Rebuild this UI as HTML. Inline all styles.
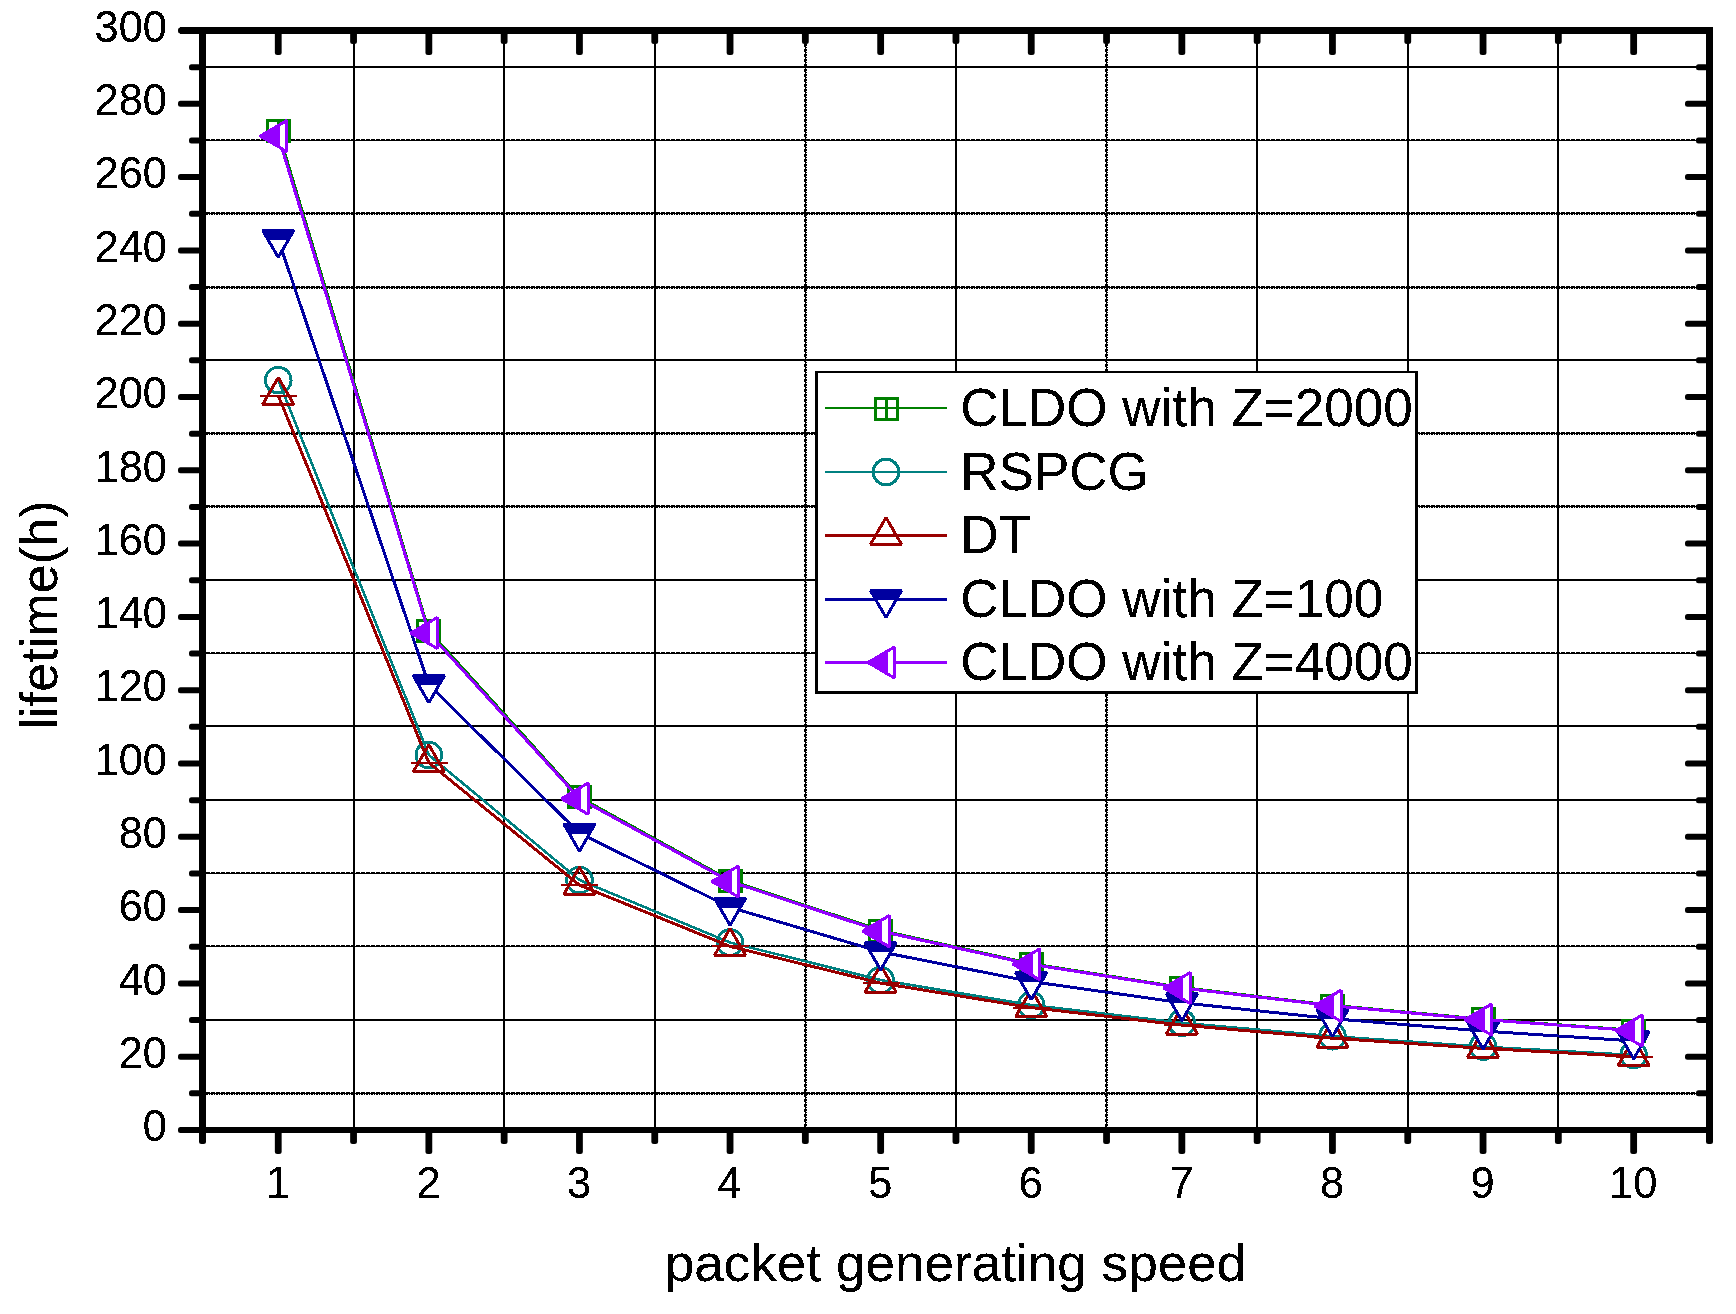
<!DOCTYPE html>
<html lang="en"><head><meta charset="utf-8"><title>lifetime vs packet generating speed</title>
<style>html,body{margin:0;padding:0;background:#fff}svg{display:block}text{font-family:"Liberation Sans",Arial,sans-serif;fill:#000}.tk{font-size:43.4px}.tt{font-size:53.1px}.ty{font-size:52.2px}.tl{font-size:53.05px}</style>
</head><body>
<svg width="1736" height="1314" viewBox="0 0 1736 1314">
<defs><filter id="bin" x="-2%" y="-2%" width="104%" height="104%" color-interpolation-filters="sRGB"><feComponentTransfer><feFuncA type="discrete" tableValues="0 0 1 1 1"/></feComponentTransfer></filter></defs>
<rect width="1736" height="1314" fill="#fff"/>
<g id="grid" fill="#000" stroke="#000" stroke-width="1" shape-rendering="crispEdges">
<line x1="206" y1="1092.5" x2="1706" y2="1092.5" stroke-dasharray="4 1"/>
<rect x="206" y="1093" width="1500" height="1" stroke="none"/>
<line x1="206" y1="1094.5" x2="1706" y2="1094.5" stroke-dasharray="2 1 1 1"/>
<rect x="206" y="1019" width="1500" height="2" stroke="none"/>
<line x1="206" y1="945.5" x2="1706" y2="945.5" stroke-dasharray="4 1"/>
<rect x="206" y="946" width="1500" height="1" stroke="none"/>
<line x1="206" y1="872.5" x2="1706" y2="872.5" stroke-dasharray="4 1"/>
<rect x="206" y="873" width="1500" height="1" stroke="none"/>
<rect x="206" y="799" width="1500" height="2" stroke="none"/>
<rect x="206" y="725" width="1500" height="2" stroke="none"/>
<line x1="206" y1="652.5" x2="1706" y2="652.5" stroke-dasharray="4 1"/>
<rect x="206" y="653" width="1500" height="1" stroke="none"/>
<rect x="206" y="579" width="1500" height="2" stroke="none"/>
<line x1="206" y1="505.5" x2="1706" y2="505.5" stroke-dasharray="4 1"/>
<rect x="206" y="506" width="1500" height="1" stroke="none"/>
<line x1="206" y1="507.5" x2="1706" y2="507.5" stroke-dasharray="2 1 1 1"/>
<line x1="206" y1="432.5" x2="1706" y2="432.5" stroke-dasharray="4 1"/>
<rect x="206" y="433" width="1500" height="1" stroke="none"/>
<line x1="206" y1="434.5" x2="1706" y2="434.5" stroke-dasharray="2 1 1 1"/>
<rect x="206" y="359" width="1500" height="2" stroke="none"/>
<line x1="206" y1="286.5" x2="1706" y2="286.5" stroke-dasharray="4 1"/>
<rect x="206" y="287" width="1500" height="1" stroke="none"/>
<line x1="206" y1="288.5" x2="1706" y2="288.5" stroke-dasharray="2 1 1 1"/>
<line x1="206" y1="212.5" x2="1706" y2="212.5" stroke-dasharray="4 1"/>
<rect x="206" y="213" width="1500" height="1" stroke="none"/>
<line x1="206" y1="214.5" x2="1706" y2="214.5" stroke-dasharray="2 1 1 1"/>
<line x1="206" y1="139.5" x2="1706" y2="139.5" stroke-dasharray="4 1"/>
<rect x="206" y="140" width="1500" height="1" stroke="none"/>
<rect x="206" y="66" width="1500" height="2" stroke="none"/>
<rect x="353" y="34" width="2" height="1093" stroke="none"/>
<rect x="503" y="34" width="2" height="1093" stroke="none"/>
<rect x="654" y="34" width="2" height="1093" stroke="none"/>
<line x1="804.5" y1="34" x2="804.5" y2="1127" stroke-dasharray="3 2"/>
<rect x="805" y="34" width="1" height="1093" stroke="none"/>
<line x1="806.5" y1="34" x2="806.5" y2="1127" stroke-dasharray="2 1 1 1"/>
<rect x="955" y="34" width="2" height="1093" stroke="none"/>
<line x1="1105.5" y1="34" x2="1105.5" y2="1127" stroke-dasharray="3 2"/>
<rect x="1106" y="34" width="1" height="1093" stroke="none"/>
<line x1="1107.5" y1="34" x2="1107.5" y2="1127" stroke-dasharray="2 1 1 1"/>
<rect x="1256" y="34" width="2" height="1093" stroke="none"/>
<rect x="1407" y="34" width="2" height="1093" stroke="none"/>
<rect x="1557" y="34" width="2" height="1093" stroke="none"/>
</g>
<g id="series" shape-rendering="crispEdges">
<polyline fill="none" stroke="#008000" stroke-width="2.6" stroke-linejoin="round" points="278.25,130.92 428.85,630.46 579.45,796.97 730.05,880.23 880.65,930.18 1031.25,963.49 1181.85,987.27 1332.45,1005.12 1483.05,1018.99 1633.65,1030.09"/>
<rect x="267.25" y="120.92" width="22" height="21" fill="none" stroke="#008000" stroke-width="3"/><line x1="278.25" y1="120.92" x2="278.25" y2="141.92" stroke="#008000" stroke-width="3"/>
<rect x="417.85" y="620.46" width="22" height="21" fill="none" stroke="#008000" stroke-width="3"/><line x1="428.85" y1="620.46" x2="428.85" y2="641.46" stroke="#008000" stroke-width="3"/>
<rect x="568.45" y="786.97" width="22" height="21" fill="none" stroke="#008000" stroke-width="3"/><line x1="579.45" y1="786.97" x2="579.45" y2="807.97" stroke="#008000" stroke-width="3"/>
<rect x="719.05" y="870.23" width="22" height="21" fill="none" stroke="#008000" stroke-width="3"/><line x1="730.05" y1="870.23" x2="730.05" y2="891.23" stroke="#008000" stroke-width="3"/>
<rect x="869.65" y="920.18" width="22" height="21" fill="none" stroke="#008000" stroke-width="3"/><line x1="880.65" y1="920.18" x2="880.65" y2="941.18" stroke="#008000" stroke-width="3"/>
<rect x="1020.25" y="953.49" width="22" height="21" fill="none" stroke="#008000" stroke-width="3"/><line x1="1031.25" y1="953.49" x2="1031.25" y2="974.49" stroke="#008000" stroke-width="3"/>
<rect x="1170.85" y="977.27" width="22" height="21" fill="none" stroke="#008000" stroke-width="3"/><line x1="1181.85" y1="977.27" x2="1181.85" y2="998.27" stroke="#008000" stroke-width="3"/>
<rect x="1321.45" y="995.12" width="22" height="21" fill="none" stroke="#008000" stroke-width="3"/><line x1="1332.45" y1="995.12" x2="1332.45" y2="1016.12" stroke="#008000" stroke-width="3"/>
<rect x="1472.05" y="1008.99" width="22" height="21" fill="none" stroke="#008000" stroke-width="3"/><line x1="1483.05" y1="1008.99" x2="1483.05" y2="1029.99" stroke="#008000" stroke-width="3"/>
<rect x="1622.65" y="1020.09" width="22" height="21" fill="none" stroke="#008000" stroke-width="3"/><line x1="1633.65" y1="1020.09" x2="1633.65" y2="1041.09" stroke="#008000" stroke-width="3"/>
<polyline fill="none" stroke="#008080" stroke-width="2.6" stroke-linejoin="round" points="278.25,380.14 428.85,755.07 579.45,880.05 730.05,942.54 880.65,980.03 1031.25,1005.02 1181.85,1022.88 1332.45,1036.27 1483.05,1046.68 1633.65,1055.01"/>
<circle cx="278.25" cy="380.14" r="12.8" fill="none" stroke="#008080" stroke-width="3"/>
<circle cx="428.85" cy="755.07" r="12.8" fill="none" stroke="#008080" stroke-width="3"/>
<circle cx="579.45" cy="880.05" r="12.8" fill="none" stroke="#008080" stroke-width="3"/>
<circle cx="730.05" cy="942.54" r="12.8" fill="none" stroke="#008080" stroke-width="3"/>
<circle cx="880.65" cy="980.03" r="12.8" fill="none" stroke="#008080" stroke-width="3"/>
<circle cx="1031.25" cy="1005.02" r="12.8" fill="none" stroke="#008080" stroke-width="3"/>
<circle cx="1181.85" cy="1022.88" r="12.8" fill="none" stroke="#008080" stroke-width="3"/>
<circle cx="1332.45" cy="1036.27" r="12.8" fill="none" stroke="#008080" stroke-width="3"/>
<circle cx="1483.05" cy="1046.68" r="12.8" fill="none" stroke="#008080" stroke-width="3"/>
<circle cx="1633.65" cy="1055.01" r="12.8" fill="none" stroke="#008080" stroke-width="3"/>
<polyline fill="none" stroke="#990000" stroke-width="3" stroke-linejoin="round" points="278.25,395.53 428.85,762.77 579.45,885.18 730.05,946.38 880.65,983.11 1031.25,1007.59 1181.85,1025.08 1332.45,1038.19 1483.05,1048.39 1633.65,1056.55"/>
<polygon points="278.25,377.53 262.66,404.53 293.84,404.53" fill="none" stroke="#990000" stroke-width="3" stroke-linejoin="bevel"/><line x1="260.25" y1="395.53" x2="297.25" y2="395.53" stroke="#990000" stroke-width="2"/>
<polygon points="428.85,744.77 413.26,771.77 444.44,771.77" fill="none" stroke="#990000" stroke-width="3" stroke-linejoin="bevel"/><line x1="410.85" y1="762.77" x2="447.85" y2="762.77" stroke="#990000" stroke-width="2"/>
<polygon points="579.45,867.18 563.86,894.18 595.04,894.18" fill="none" stroke="#990000" stroke-width="3" stroke-linejoin="bevel"/><line x1="561.45" y1="885.18" x2="598.45" y2="885.18" stroke="#990000" stroke-width="2"/>
<polygon points="730.05,928.38 714.46,955.38 745.64,955.38" fill="none" stroke="#990000" stroke-width="3" stroke-linejoin="bevel"/><line x1="712.05" y1="946.38" x2="749.05" y2="946.38" stroke="#990000" stroke-width="2"/>
<polygon points="880.65,965.11 865.06,992.11 896.24,992.11" fill="none" stroke="#990000" stroke-width="3" stroke-linejoin="bevel"/><line x1="862.65" y1="983.11" x2="899.65" y2="983.11" stroke="#990000" stroke-width="2"/>
<polygon points="1031.25,989.59 1015.66,1016.59 1046.84,1016.59" fill="none" stroke="#990000" stroke-width="3" stroke-linejoin="bevel"/><line x1="1013.25" y1="1007.59" x2="1050.25" y2="1007.59" stroke="#990000" stroke-width="2"/>
<polygon points="1181.85,1007.08 1166.26,1034.08 1197.44,1034.08" fill="none" stroke="#990000" stroke-width="3" stroke-linejoin="bevel"/><line x1="1163.85" y1="1025.08" x2="1200.85" y2="1025.08" stroke="#990000" stroke-width="2"/>
<polygon points="1332.45,1020.19 1316.86,1047.19 1348.04,1047.19" fill="none" stroke="#990000" stroke-width="3" stroke-linejoin="bevel"/><line x1="1314.45" y1="1038.19" x2="1351.45" y2="1038.19" stroke="#990000" stroke-width="2"/>
<polygon points="1483.05,1030.39 1467.46,1057.39 1498.64,1057.39" fill="none" stroke="#990000" stroke-width="3" stroke-linejoin="bevel"/><line x1="1465.05" y1="1048.39" x2="1502.05" y2="1048.39" stroke="#990000" stroke-width="2"/>
<polygon points="1633.65,1038.55 1618.06,1065.55 1649.24,1065.55" fill="none" stroke="#990000" stroke-width="3" stroke-linejoin="bevel"/><line x1="1615.65" y1="1056.55" x2="1652.65" y2="1056.55" stroke="#990000" stroke-width="2"/>
<polyline fill="none" stroke="#0000a0" stroke-width="3" stroke-linejoin="round" points="278.25,239.4 428.85,684.7 579.45,833.13 730.05,907.35 880.65,951.88 1031.25,981.57 1181.85,1002.77 1332.45,1018.68 1483.05,1031.05 1633.65,1040.94"/>
<polygon points="278.25,257.4 262.66,230.4 293.84,230.4" fill="#fff" stroke="#0000a0" stroke-width="3" stroke-linejoin="bevel"/><polygon points="262.66,230.4 293.84,230.4 288.64,239.9 267.86,239.9" fill="#0000a0"/>
<polygon points="428.85,702.7 413.26,675.7 444.44,675.7" fill="#fff" stroke="#0000a0" stroke-width="3" stroke-linejoin="bevel"/><polygon points="413.26,675.7 444.44,675.7 439.24,685.2 418.46,685.2" fill="#0000a0"/>
<polygon points="579.45,851.13 563.86,824.13 595.04,824.13" fill="#fff" stroke="#0000a0" stroke-width="3" stroke-linejoin="bevel"/><polygon points="563.86,824.13 595.04,824.13 589.84,833.63 569.06,833.63" fill="#0000a0"/>
<polygon points="730.05,925.35 714.46,898.35 745.64,898.35" fill="#fff" stroke="#0000a0" stroke-width="3" stroke-linejoin="bevel"/><polygon points="714.46,898.35 745.64,898.35 740.44,907.85 719.66,907.85" fill="#0000a0"/>
<polygon points="880.65,969.88 865.06,942.88 896.24,942.88" fill="#fff" stroke="#0000a0" stroke-width="3" stroke-linejoin="bevel"/><polygon points="865.06,942.88 896.24,942.88 891.04,952.38 870.26,952.38" fill="#0000a0"/>
<polygon points="1031.25,999.57 1015.66,972.57 1046.84,972.57" fill="#fff" stroke="#0000a0" stroke-width="3" stroke-linejoin="bevel"/><polygon points="1015.66,972.57 1046.84,972.57 1041.64,982.07 1020.86,982.07" fill="#0000a0"/>
<polygon points="1181.85,1020.77 1166.26,993.77 1197.44,993.77" fill="#fff" stroke="#0000a0" stroke-width="3" stroke-linejoin="bevel"/><polygon points="1166.26,993.77 1197.44,993.77 1192.24,1003.27 1171.46,1003.27" fill="#0000a0"/>
<polygon points="1332.45,1036.68 1316.86,1009.68 1348.04,1009.68" fill="#fff" stroke="#0000a0" stroke-width="3" stroke-linejoin="bevel"/><polygon points="1316.86,1009.68 1348.04,1009.68 1342.84,1019.18 1322.06,1019.18" fill="#0000a0"/>
<polygon points="1483.05,1049.05 1467.46,1022.05 1498.64,1022.05" fill="#fff" stroke="#0000a0" stroke-width="3" stroke-linejoin="bevel"/><polygon points="1467.46,1022.05 1498.64,1022.05 1493.44,1031.55 1472.66,1031.55" fill="#0000a0"/>
<polygon points="1633.65,1058.94 1618.06,1031.94 1649.24,1031.94" fill="#fff" stroke="#0000a0" stroke-width="3" stroke-linejoin="bevel"/><polygon points="1618.06,1031.94 1649.24,1031.94 1644.04,1041.44 1623.26,1041.44" fill="#0000a0"/>
<polyline fill="none" stroke="#9400ff" stroke-width="3" stroke-linejoin="round" points="278.25,136.05 428.85,633.03 579.45,798.68 730.05,881.51 880.65,931.21 1031.25,964.34 1181.85,988.01 1332.45,1005.76 1483.05,1019.56 1633.65,1030.61"/>
<polygon points="260.25,136.05 286.85,120.45 286.85,151.65" fill="#fff" stroke="#9400ff" stroke-width="3" stroke-linejoin="bevel"/><polygon points="260.25,136.05 279.75,124.62 279.75,147.49" fill="#9400ff"/>
<polygon points="410.85,633.03 437.45,617.43 437.45,648.63" fill="#fff" stroke="#9400ff" stroke-width="3" stroke-linejoin="bevel"/><polygon points="410.85,633.03 430.35,621.59 430.35,644.46" fill="#9400ff"/>
<polygon points="561.45,798.68 588.05,783.08 588.05,814.28" fill="#fff" stroke="#9400ff" stroke-width="3" stroke-linejoin="bevel"/><polygon points="561.45,798.68 580.95,787.25 580.95,810.12" fill="#9400ff"/>
<polygon points="712.05,881.51 738.65,865.91 738.65,897.11" fill="#fff" stroke="#9400ff" stroke-width="3" stroke-linejoin="bevel"/><polygon points="712.05,881.51 731.55,870.08 731.55,892.95" fill="#9400ff"/>
<polygon points="862.65,931.21 889.25,915.61 889.25,946.81" fill="#fff" stroke="#9400ff" stroke-width="3" stroke-linejoin="bevel"/><polygon points="862.65,931.21 882.15,919.77 882.15,942.65" fill="#9400ff"/>
<polygon points="1013.25,964.34 1039.85,948.74 1039.85,979.94" fill="#fff" stroke="#9400ff" stroke-width="3" stroke-linejoin="bevel"/><polygon points="1013.25,964.34 1032.75,952.91 1032.75,975.78" fill="#9400ff"/>
<polygon points="1163.85,988.01 1190.45,972.41 1190.45,1003.61" fill="#fff" stroke="#9400ff" stroke-width="3" stroke-linejoin="bevel"/><polygon points="1163.85,988.01 1183.35,976.57 1183.35,999.44" fill="#9400ff"/>
<polygon points="1314.45,1005.76 1341.05,990.16 1341.05,1021.36" fill="#fff" stroke="#9400ff" stroke-width="3" stroke-linejoin="bevel"/><polygon points="1314.45,1005.76 1333.95,994.32 1333.95,1017.19" fill="#9400ff"/>
<polygon points="1465.05,1019.56 1491.65,1003.96 1491.65,1035.16" fill="#fff" stroke="#9400ff" stroke-width="3" stroke-linejoin="bevel"/><polygon points="1465.05,1019.56 1484.55,1008.13 1484.55,1031" fill="#9400ff"/>
<polygon points="1615.65,1030.61 1642.25,1015.01 1642.25,1046.21" fill="#fff" stroke="#9400ff" stroke-width="3" stroke-linejoin="bevel"/><polygon points="1615.65,1030.61 1635.15,1019.17 1635.15,1042.04" fill="#9400ff"/>
</g>
<g id="frame" fill="#000" shape-rendering="crispEdges">
<rect x="180" y="27" width="1533" height="7"/>
<rect x="180" y="1127" width="1533" height="6"/>
<rect x="199" y="27" width="7" height="1115"/>
<rect x="1706" y="27" width="7" height="1115"/>
</g>
<g id="ticks" fill="#000">
<rect x="178" y="1127" width="23" height="6" rx="2.5"/>
<rect x="1685" y="1127" width="23" height="6" rx="2.5"/>
<rect x="189" y="1090.35" width="12" height="6" rx="2.5"/>
<rect x="1696" y="1090.35" width="12" height="6" rx="2.5"/>
<rect x="178" y="1053.7" width="23" height="6" rx="2.5"/>
<rect x="1685" y="1053.7" width="23" height="6" rx="2.5"/>
<rect x="189" y="1017.05" width="12" height="6" rx="2.5"/>
<rect x="1696" y="1017.05" width="12" height="6" rx="2.5"/>
<rect x="178" y="980.4" width="23" height="6" rx="2.5"/>
<rect x="1685" y="980.4" width="23" height="6" rx="2.5"/>
<rect x="189" y="943.75" width="12" height="6" rx="2.5"/>
<rect x="1696" y="943.75" width="12" height="6" rx="2.5"/>
<rect x="178" y="907.1" width="23" height="6" rx="2.5"/>
<rect x="1685" y="907.1" width="23" height="6" rx="2.5"/>
<rect x="189" y="870.45" width="12" height="6" rx="2.5"/>
<rect x="1696" y="870.45" width="12" height="6" rx="2.5"/>
<rect x="178" y="833.8" width="23" height="6" rx="2.5"/>
<rect x="1685" y="833.8" width="23" height="6" rx="2.5"/>
<rect x="189" y="797.15" width="12" height="6" rx="2.5"/>
<rect x="1696" y="797.15" width="12" height="6" rx="2.5"/>
<rect x="178" y="760.5" width="23" height="6" rx="2.5"/>
<rect x="1685" y="760.5" width="23" height="6" rx="2.5"/>
<rect x="189" y="723.85" width="12" height="6" rx="2.5"/>
<rect x="1696" y="723.85" width="12" height="6" rx="2.5"/>
<rect x="178" y="687.2" width="23" height="6" rx="2.5"/>
<rect x="1685" y="687.2" width="23" height="6" rx="2.5"/>
<rect x="189" y="650.55" width="12" height="6" rx="2.5"/>
<rect x="1696" y="650.55" width="12" height="6" rx="2.5"/>
<rect x="178" y="613.9" width="23" height="6" rx="2.5"/>
<rect x="1685" y="613.9" width="23" height="6" rx="2.5"/>
<rect x="189" y="577.25" width="12" height="6" rx="2.5"/>
<rect x="1696" y="577.25" width="12" height="6" rx="2.5"/>
<rect x="178" y="540.6" width="23" height="6" rx="2.5"/>
<rect x="1685" y="540.6" width="23" height="6" rx="2.5"/>
<rect x="189" y="503.95" width="12" height="6" rx="2.5"/>
<rect x="1696" y="503.95" width="12" height="6" rx="2.5"/>
<rect x="178" y="467.3" width="23" height="6" rx="2.5"/>
<rect x="1685" y="467.3" width="23" height="6" rx="2.5"/>
<rect x="189" y="430.65" width="12" height="6" rx="2.5"/>
<rect x="1696" y="430.65" width="12" height="6" rx="2.5"/>
<rect x="178" y="394" width="23" height="6" rx="2.5"/>
<rect x="1685" y="394" width="23" height="6" rx="2.5"/>
<rect x="189" y="357.35" width="12" height="6" rx="2.5"/>
<rect x="1696" y="357.35" width="12" height="6" rx="2.5"/>
<rect x="178" y="320.7" width="23" height="6" rx="2.5"/>
<rect x="1685" y="320.7" width="23" height="6" rx="2.5"/>
<rect x="189" y="284.05" width="12" height="6" rx="2.5"/>
<rect x="1696" y="284.05" width="12" height="6" rx="2.5"/>
<rect x="178" y="247.4" width="23" height="6" rx="2.5"/>
<rect x="1685" y="247.4" width="23" height="6" rx="2.5"/>
<rect x="189" y="210.75" width="12" height="6" rx="2.5"/>
<rect x="1696" y="210.75" width="12" height="6" rx="2.5"/>
<rect x="178" y="174.1" width="23" height="6" rx="2.5"/>
<rect x="1685" y="174.1" width="23" height="6" rx="2.5"/>
<rect x="189" y="137.45" width="12" height="6" rx="2.5"/>
<rect x="1696" y="137.45" width="12" height="6" rx="2.5"/>
<rect x="178" y="100.8" width="23" height="6" rx="2.5"/>
<rect x="1685" y="100.8" width="23" height="6" rx="2.5"/>
<rect x="189" y="64.15" width="12" height="6" rx="2.5"/>
<rect x="1696" y="64.15" width="12" height="6" rx="2.5"/>
<rect x="178" y="27.5" width="23" height="6" rx="2.5"/>
<rect x="1685" y="27.5" width="23" height="6" rx="2.5"/>
<rect x="274.85" y="32" width="6.8" height="23" rx="2.5"/>
<rect x="274.85" y="1131" width="6.8" height="23" rx="2.5"/>
<rect x="350.15" y="32" width="6.8" height="12" rx="2.5"/>
<rect x="350.15" y="1131" width="6.8" height="13" rx="2.5"/>
<rect x="425.45" y="32" width="6.8" height="23" rx="2.5"/>
<rect x="425.45" y="1131" width="6.8" height="23" rx="2.5"/>
<rect x="500.75" y="32" width="6.8" height="12" rx="2.5"/>
<rect x="500.75" y="1131" width="6.8" height="13" rx="2.5"/>
<rect x="576.05" y="32" width="6.8" height="23" rx="2.5"/>
<rect x="576.05" y="1131" width="6.8" height="23" rx="2.5"/>
<rect x="651.35" y="32" width="6.8" height="12" rx="2.5"/>
<rect x="651.35" y="1131" width="6.8" height="13" rx="2.5"/>
<rect x="726.65" y="32" width="6.8" height="23" rx="2.5"/>
<rect x="726.65" y="1131" width="6.8" height="23" rx="2.5"/>
<rect x="801.95" y="32" width="6.8" height="12" rx="2.5"/>
<rect x="801.95" y="1131" width="6.8" height="13" rx="2.5"/>
<rect x="877.25" y="32" width="6.8" height="23" rx="2.5"/>
<rect x="877.25" y="1131" width="6.8" height="23" rx="2.5"/>
<rect x="952.55" y="32" width="6.8" height="12" rx="2.5"/>
<rect x="952.55" y="1131" width="6.8" height="13" rx="2.5"/>
<rect x="1027.85" y="32" width="6.8" height="23" rx="2.5"/>
<rect x="1027.85" y="1131" width="6.8" height="23" rx="2.5"/>
<rect x="1103.15" y="32" width="6.8" height="12" rx="2.5"/>
<rect x="1103.15" y="1131" width="6.8" height="13" rx="2.5"/>
<rect x="1178.45" y="32" width="6.8" height="23" rx="2.5"/>
<rect x="1178.45" y="1131" width="6.8" height="23" rx="2.5"/>
<rect x="1253.75" y="32" width="6.8" height="12" rx="2.5"/>
<rect x="1253.75" y="1131" width="6.8" height="13" rx="2.5"/>
<rect x="1329.05" y="32" width="6.8" height="23" rx="2.5"/>
<rect x="1329.05" y="1131" width="6.8" height="23" rx="2.5"/>
<rect x="1404.35" y="32" width="6.8" height="12" rx="2.5"/>
<rect x="1404.35" y="1131" width="6.8" height="13" rx="2.5"/>
<rect x="1479.65" y="32" width="6.8" height="23" rx="2.5"/>
<rect x="1479.65" y="1131" width="6.8" height="23" rx="2.5"/>
<rect x="1554.95" y="32" width="6.8" height="12" rx="2.5"/>
<rect x="1554.95" y="1131" width="6.8" height="13" rx="2.5"/>
<rect x="1630.25" y="32" width="6.8" height="23" rx="2.5"/>
<rect x="1630.25" y="1131" width="6.8" height="23" rx="2.5"/>
<rect x="199" y="1131" width="7" height="13" rx="2.5"/><rect x="1706" y="1131" width="7" height="13" rx="2.5"/>
</g>
<g id="labels" filter="url(#bin)">
<text class="tk" text-anchor="end" transform="translate(167 1141.2) scale(1 1.02)">0</text>
<text class="tk" text-anchor="end" transform="translate(167 1067.9) scale(1 1.02)">20</text>
<text class="tk" text-anchor="end" transform="translate(167 994.6) scale(1 1.02)">40</text>
<text class="tk" text-anchor="end" transform="translate(167 921.3) scale(1 1.02)">60</text>
<text class="tk" text-anchor="end" transform="translate(167 848) scale(1 1.02)">80</text>
<text class="tk" text-anchor="end" transform="translate(167 774.7) scale(1 1.02)">100</text>
<text class="tk" text-anchor="end" transform="translate(167 701.4) scale(1 1.02)">120</text>
<text class="tk" text-anchor="end" transform="translate(167 628.1) scale(1 1.02)">140</text>
<text class="tk" text-anchor="end" transform="translate(167 554.8) scale(1 1.02)">160</text>
<text class="tk" text-anchor="end" transform="translate(167 481.5) scale(1 1.02)">180</text>
<text class="tk" text-anchor="end" transform="translate(167 408.2) scale(1 1.02)">200</text>
<text class="tk" text-anchor="end" transform="translate(167 334.9) scale(1 1.02)">220</text>
<text class="tk" text-anchor="end" transform="translate(167 261.6) scale(1 1.02)">240</text>
<text class="tk" text-anchor="end" transform="translate(167 188.3) scale(1 1.02)">260</text>
<text class="tk" text-anchor="end" transform="translate(167 115) scale(1 1.02)">280</text>
<text class="tk" text-anchor="end" transform="translate(167 41.7) scale(1 1.02)">300</text>
<text class="tk" text-anchor="middle" transform="translate(277.85 1198) scale(1 1.02)">1</text>
<text class="tk" text-anchor="middle" transform="translate(428.45 1198) scale(1 1.02)">2</text>
<text class="tk" text-anchor="middle" transform="translate(579.05 1198) scale(1 1.02)">3</text>
<text class="tk" text-anchor="middle" transform="translate(729.65 1198) scale(1 1.02)">4</text>
<text class="tk" text-anchor="middle" transform="translate(880.25 1198) scale(1 1.02)">5</text>
<text class="tk" text-anchor="middle" transform="translate(1030.85 1198) scale(1 1.02)">6</text>
<text class="tk" text-anchor="middle" transform="translate(1181.45 1198) scale(1 1.02)">7</text>
<text class="tk" text-anchor="middle" transform="translate(1332.05 1198) scale(1 1.02)">8</text>
<text class="tk" text-anchor="middle" transform="translate(1482.65 1198) scale(1 1.02)">9</text>
<text class="tk" text-anchor="middle" transform="translate(1633.25 1198) scale(1 1.02)">10</text>
<text class="tt" text-anchor="middle" transform="translate(955.5 1281) scale(1 0.975)">packet generating speed</text>
<text class="ty" text-anchor="middle" transform="translate(56.8 615) rotate(-90) scale(1 0.975)">lifetime(h)</text>
</g>
<g id="legend">
<rect x="815" y="371" width="603" height="323" fill="#000" shape-rendering="crispEdges"/>
<rect x="818" y="373" width="597" height="318" fill="#fff" shape-rendering="crispEdges"/>
<g shape-rendering="crispEdges"><rect x="825" y="407" width="122" height="2" fill="#008000"/><rect x="875" y="398" width="22" height="21" fill="none" stroke="#008000" stroke-width="3"/><line x1="886" y1="398" x2="886" y2="419" stroke="#008000" stroke-width="3"/></g>
<g filter="url(#bin)"><text class="tl" text-anchor="start" transform="translate(960.2 426) scale(1 1.0)">CLDO with Z=2000</text></g>
<g shape-rendering="crispEdges"><rect x="825" y="471" width="122" height="2" fill="#008080"/><circle cx="886" cy="472" r="12.8" fill="none" stroke="#008080" stroke-width="3"/></g>
<g filter="url(#bin)"><text class="tl" text-anchor="start" transform="translate(960.2 489.5) scale(1 1.0)">RSPCG</text></g>
<g shape-rendering="crispEdges"><rect x="825" y="534" width="122" height="3" fill="#990000"/><polygon points="886,517.5 870.41,544.5 901.59,544.5" fill="none" stroke="#990000" stroke-width="3" stroke-linejoin="bevel"/><line x1="868" y1="535.5" x2="905" y2="535.5" stroke="#990000" stroke-width="2"/></g>
<g filter="url(#bin)"><text class="tl" text-anchor="start" transform="translate(960.2 553) scale(1 1.0)">DT</text></g>
<g shape-rendering="crispEdges"><rect x="825" y="598" width="122" height="3" fill="#0000a0"/><polygon points="886,617.5 870.41,590.5 901.59,590.5" fill="#fff" stroke="#0000a0" stroke-width="3" stroke-linejoin="bevel"/><polygon points="870.41,590.5 901.59,590.5 896.39,600 875.61,600" fill="#0000a0"/></g>
<g filter="url(#bin)"><text class="tl" text-anchor="start" transform="translate(960.2 616.6) scale(1 1.0)">CLDO with Z=100</text></g>
<g shape-rendering="crispEdges"><rect x="825" y="661" width="122" height="3" fill="#9400ff"/><polygon points="868,662.5 894.6,646.9 894.6,678.1" fill="#fff" stroke="#9400ff" stroke-width="3" stroke-linejoin="bevel"/><polygon points="868,662.5 887.5,651.06 887.5,673.94" fill="#9400ff"/></g>
<g filter="url(#bin)"><text class="tl" text-anchor="start" transform="translate(960.2 680) scale(1 1.0)">CLDO with Z=4000</text></g>
</g>
</svg></body></html>
